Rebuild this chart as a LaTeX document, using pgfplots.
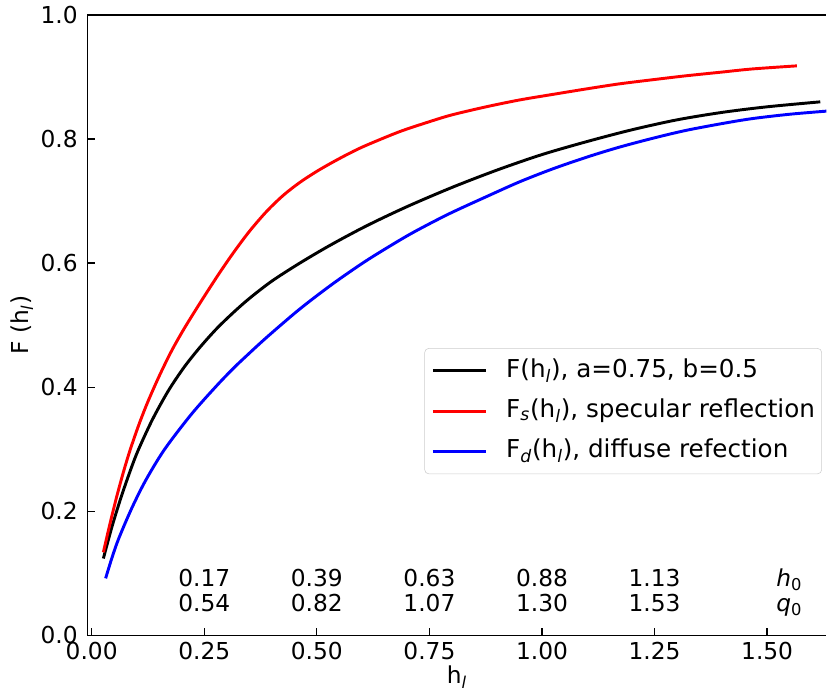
\documentclass[border=0pt]{standalone}
\usepackage{fontspec}
\setmainfont{DejaVu Sans}
\usepackage{pgfplots}
\pgfplotsset{compat=1.18}
\newcommand\fs{\fontsize{17.5}{21}\selectfont}
\newcommand\lfs{\fontsize{18.5}{22}\selectfont}
\newcommand\sub[1]{\textsubscript{#1}}

\pgfplotstableread{
x y
0.026 0.124
0.045 0.175
0.065 0.222
0.085 0.264
0.103 0.298
0.135 0.348
0.170 0.394
0.205 0.432
0.240 0.464
0.277 0.494
0.314 0.520
0.350 0.543
0.400 0.571
0.462 0.600
0.530 0.629
0.610 0.660
0.700 0.691
0.800 0.722
0.900 0.750
1.000 0.775
1.100 0.796
1.200 0.815
1.300 0.831
1.400 0.843
1.500 0.852
1.618 0.860
}\mixed
\pgfplotstableread{
x y
0.026 0.134
0.040 0.178
0.055 0.222
0.070 0.262
0.085 0.298
0.105 0.340
0.125 0.377
0.150 0.418
0.177 0.458
0.205 0.494
0.240 0.535
0.280 0.580
0.314 0.616
0.350 0.651
0.388 0.683
0.425 0.709
0.462 0.730
0.500 0.748
0.536 0.763
0.575 0.778
0.610 0.790
0.684 0.812
0.750 0.828
0.800 0.839
0.876 0.852
0.950 0.863
1.024 0.872
1.100 0.881
1.172 0.889
1.250 0.896
1.320 0.902
1.400 0.908
1.467 0.913
1.566 0.918
}\specular
\pgfplotstableread{
x y
0.031 0.092
0.045 0.125
0.060 0.156
0.089 0.205
0.120 0.250
0.162 0.300
0.222 0.357
0.277 0.402
0.314 0.430
0.340 0.448
0.388 0.480
0.462 0.526
0.536 0.567
0.610 0.604
0.684 0.637
0.728 0.655
0.795 0.680
0.876 0.707
0.950 0.731
1.024 0.752
1.100 0.771
1.172 0.787
1.250 0.802
1.320 0.814
1.400 0.825
1.467 0.833
1.550 0.840
1.631 0.845
1.650 0.846
}\diffuse

\begin{document}
\begin{tikzpicture}
\begin{axis}[
  scale only axis, width=554.8pt, height=465.75pt,
  xmin=-0.0098, xmax=1.6315, ymin=0, ymax=1,
  axis x line=box, axis y line=left,
  axis line style={-, line width=1pt},
  xtick={0,0.25,0.5,0.75,1,1.25,1.5}, ytick={0,0.2,0.4,0.6,0.8,1},
  xtick pos=left, ytick pos=left,
  tick align=inside, major tick length=5.9pt,
  tick style={black, line width=1pt},
  /pgf/number format/assume math mode=true,
  xticklabel style={font=\fs, inner sep=0pt, anchor=base, yshift=-18pt,
    /pgf/number format/.cd, fixed, fixed zerofill, precision=2},
  yticklabel style={font=\fs, inner sep=0pt, anchor=east, xshift=-7pt,
    /pgf/number format/.cd, fixed, fixed zerofill, precision=1},
  xlabel={h\sub{\textit{l}}},
  ylabel={F (h\sub{\textit{l}})},
  every axis x label/.style={at={(rel axis cs:0.5,-0.0676)}, anchor=center, font=\fs},
  every axis y label/.style={at={(rel axis cs:-0.0883,0.5)}, anchor=center, rotate=90, font=\fs},
  legend style={at={(rel axis cs:0.994,0.463)}, anchor=north east,
    draw=black!20, rounded corners=3pt, fill=white, font=\lfs,
    inner xsep=5pt, inner ysep=8pt, row sep=12.5pt, column sep=14pt,
    nodes={inner sep=0pt, text height=13.5pt, text depth=4.2pt}},
  legend cell align=left,
  legend image code/.code={\draw[#1, line width=2.2pt] (0pt,0pt) -- (40pt,0pt);},
]
\addplot[black, line width=2.2pt, smooth] table[x=x, y=y] {\mixed};
\addlegendentry{F(h\sub{\textit{l}}), a=0.75, b=0.5}
\addplot[red, line width=2.2pt, smooth] table[x=x, y=y] {\specular};
\addlegendentry{F\sub{\textit{s}}(h\sub{\textit{l}}), specular reflection}
\addplot[blue, line width=2.2pt, smooth] table[x=x, y=y] {\diffuse};
\addlegendentry{F\sub{\textit{d}}(h\sub{\textit{l}}), diffuse refection}

\tikzset{ann/.style={font=\fs, inner sep=0pt, text height=12.8pt, text depth=0pt}}
\node[ann] at (axis cs:0.25,0.093) {0.17};
\node[ann] at (axis cs:0.50,0.093) {0.39};
\node[ann] at (axis cs:0.75,0.093) {0.63};
\node[ann] at (axis cs:1.00,0.093) {0.88};
\node[ann] at (axis cs:1.25,0.093) {1.13};
\node[ann] at (axis cs:1.549,0.093) {\textit{h}\sub{0}};
\node[ann] at (axis cs:0.25,0.053) {0.54};
\node[ann] at (axis cs:0.50,0.053) {0.82};
\node[ann] at (axis cs:0.75,0.053) {1.07};
\node[ann] at (axis cs:1.00,0.053) {1.30};
\node[ann] at (axis cs:1.25,0.053) {1.53};
\node[ann] at (axis cs:1.549,0.053) {\textit{q}\sub{0}};
\coordinate (ll) at (rel axis cs:0,0);
\coordinate (ur) at (rel axis cs:1,1);
\end{axis}
\path ([shift={(-65.5pt,-44.25pt)}]ll) rectangle ([shift={(0pt,11.25pt)}]ur);
\end{tikzpicture}
\end{document}
